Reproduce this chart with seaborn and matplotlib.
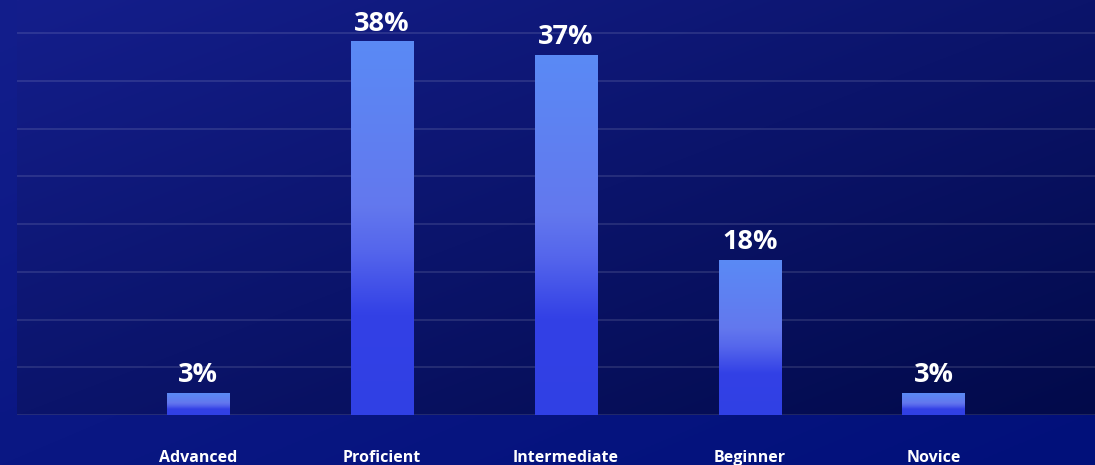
import numpy as np
import pandas as pd
import matplotlib
matplotlib.use("Agg")
import matplotlib.pyplot as plt
import seaborn as sns
from matplotlib.colors import LinearSegmentedColormap, to_rgb

categories = ["Advanced", "Proficient", "Intermediate", "Beginner", "Novice"]
bar_values = [2.3, 39.1, 37.7, 16.2, 2.3]
value_labels = ["3%", "38%", "37%", "18%", "3%"]
y_ticks = [0, 5, 10, 15, 20, 25, 30, 35, 40]

sns.set_theme(style="white")
plt.rcParams['font.family'] = ['Open Sans', 'DejaVu Sans']

W, H = 1095, 465
fig = plt.figure(figsize=(W / 100, H / 100), dpi=100)


def diag(c1, c2, n=256):
    a = np.array(to_rgb(c1))
    b = np.array(to_rgb(c2))
    yy, xx = np.mgrid[0:1:n * 1j, 0:1:n * 1j]
    t = (xx + yy) / 2
    return a + (b - a) * t[..., None]


# figure background gradient
bg = fig.add_axes([0, 0, 1, 1], zorder=-10)
bg.imshow(diag('#131e8c', '#01107a'), extent=[0, 1, 0, 1], aspect='auto')
bg.axis('off')

# main axes
left_px, bottom_px = 17, 50
ax = fig.add_axes([left_px / W, bottom_px / H, 1 - left_px / W, 1 - bottom_px / H])
ax.patch.set_alpha(0)

df = pd.DataFrame({"category": categories, "value": bar_values})
sns.barplot(data=df, x="category", y="value", ax=ax, width=0.34,
            color='#5a8af5', zorder=2, saturation=1)

xlim = (-0.986, 4.878)
ylim = (0, 43.46)

# plot-area background gradient
ax.imshow(diag('#141e8c', '#020a4a'), extent=[xlim[0], xlim[1], ylim[0], ylim[1]],
          aspect='auto', zorder=0)

# bar gradients
cmap = LinearSegmentedColormap.from_list(
    "bar", [(0.0, '#3040e4'), (0.27, '#3341e6'), (0.44, '#5566ec'),
            (0.56, '#6378ee'), (1.0, '#5a8af5')])
grad = np.linspace(1, 0, 256).reshape(-1, 1)
for p in ax.patches:
    x0, w, h = p.get_x(), p.get_width(), p.get_height()
    ax.imshow(grad, cmap=cmap, vmin=0, vmax=1, extent=[x0, x0 + w, 0, h],
              aspect='auto', zorder=2.1, interpolation='bilinear')
    p.set_facecolor('none')
    p.set_edgecolor('none')

for i, (v, lbl) in enumerate(zip(bar_values, value_labels)):
    ax.annotate(lbl, (i, v), xytext=(0, 8), textcoords='offset points',
                ha='center', va='baseline', fontsize=19.5, fontweight='bold',
                color='white', zorder=5)

ax.set_xlim(*xlim)
ax.set_ylim(*ylim)
ax.set_yticks(y_ticks)
ax.set_yticklabels([])
ax.yaxis.grid(True, color='white', alpha=0.13, lw=1.2)
ax.set_axisbelow(True)
for s in ax.spines.values():
    s.set_visible(False)
ax.set_xlabel('')
ax.set_ylabel('')
ax.tick_params(axis='both', length=0)
ax.tick_params(axis='x', pad=25.5, labelsize=11.5, labelcolor='white')
for t in ax.get_xticklabels():
    t.set_fontweight('bold')

fig.savefig("out.png", dpi=100)
